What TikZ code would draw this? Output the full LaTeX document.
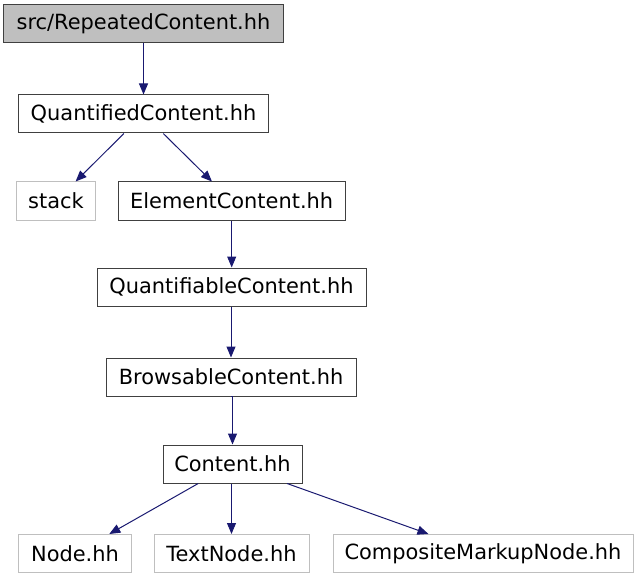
\documentclass[tikz,border=0pt]{standalone}
\usepackage{fontspec}
\setmainfont{DejaVu Sans}
\usetikzlibrary{arrows.meta}
\definecolor{edgeblue}{HTML}{191970}
\definecolor{lgray}{HTML}{BFBFBF}
\definecolor{bdark}{HTML}{404040}
\tikzset{
  box/.style={draw=bdark, line width=1bp, fill=white, minimum height=38bp, inner sep=0pt, font=\fontsize{21}{25}\selectfont},
  rootbox/.style={box, fill=lgray},
  extbox/.style={box, draw=lgray},
  dep/.style={draw=edgeblue, line width=1bp, -{Triangle[length=11bp,width=9bp]}},
}
\begin{document}
\begin{tikzpicture}[x=1bp,y=-1bp]
\useasboundingbox (0,0) rectangle (637,579);
\node[rootbox, minimum width=279bp] (rep) at (143.5,23.5) {src/RepeatedContent.hh};
\node[box, minimum width=250bp] (quant) at (143.5,114) {QuantifiedContent.hh};
\node[extbox, minimum width=79bp] (stack) at (56,201) {stack};
\node[box, minimum width=227bp] (elem) at (231.7,201) {ElementContent.hh};
\node[box, minimum width=269bp] (qable) at (231.5,287) {QuantifiableContent.hh};
\node[box, minimum width=250bp] (brow) at (231,377) {BrowsableContent.hh};
\node[box, minimum width=139bp] (cont) at (232.5,464) {Content.hh};
\node[extbox, minimum width=112bp] (node) at (75,553.5) {Node.hh};
\node[extbox, minimum width=155bp] (text) at (231.5,553.5) {TextNode.hh};
\node[extbox, minimum width=300bp] (comp) at (483,553.5) {CompositeMarkupNode.hh};
\draw[dep] (rep) -- (quant);
\draw[dep] (quant) -- (stack);
\draw[dep] (quant) -- (elem);
\draw[dep] (elem.south) -- (elem.south |- qable.north);
\draw[dep] (qable.south -| brow.north) -- (brow.north);
\draw[dep] (brow.south) -- (brow.south -| cont.north) -- (cont.north);
\draw[dep] (cont) -- (node);
\draw[dep] (cont.south -| text.north) -- (text.north);
\draw[dep] (cont) -- (comp);
\end{tikzpicture}
\end{document}
